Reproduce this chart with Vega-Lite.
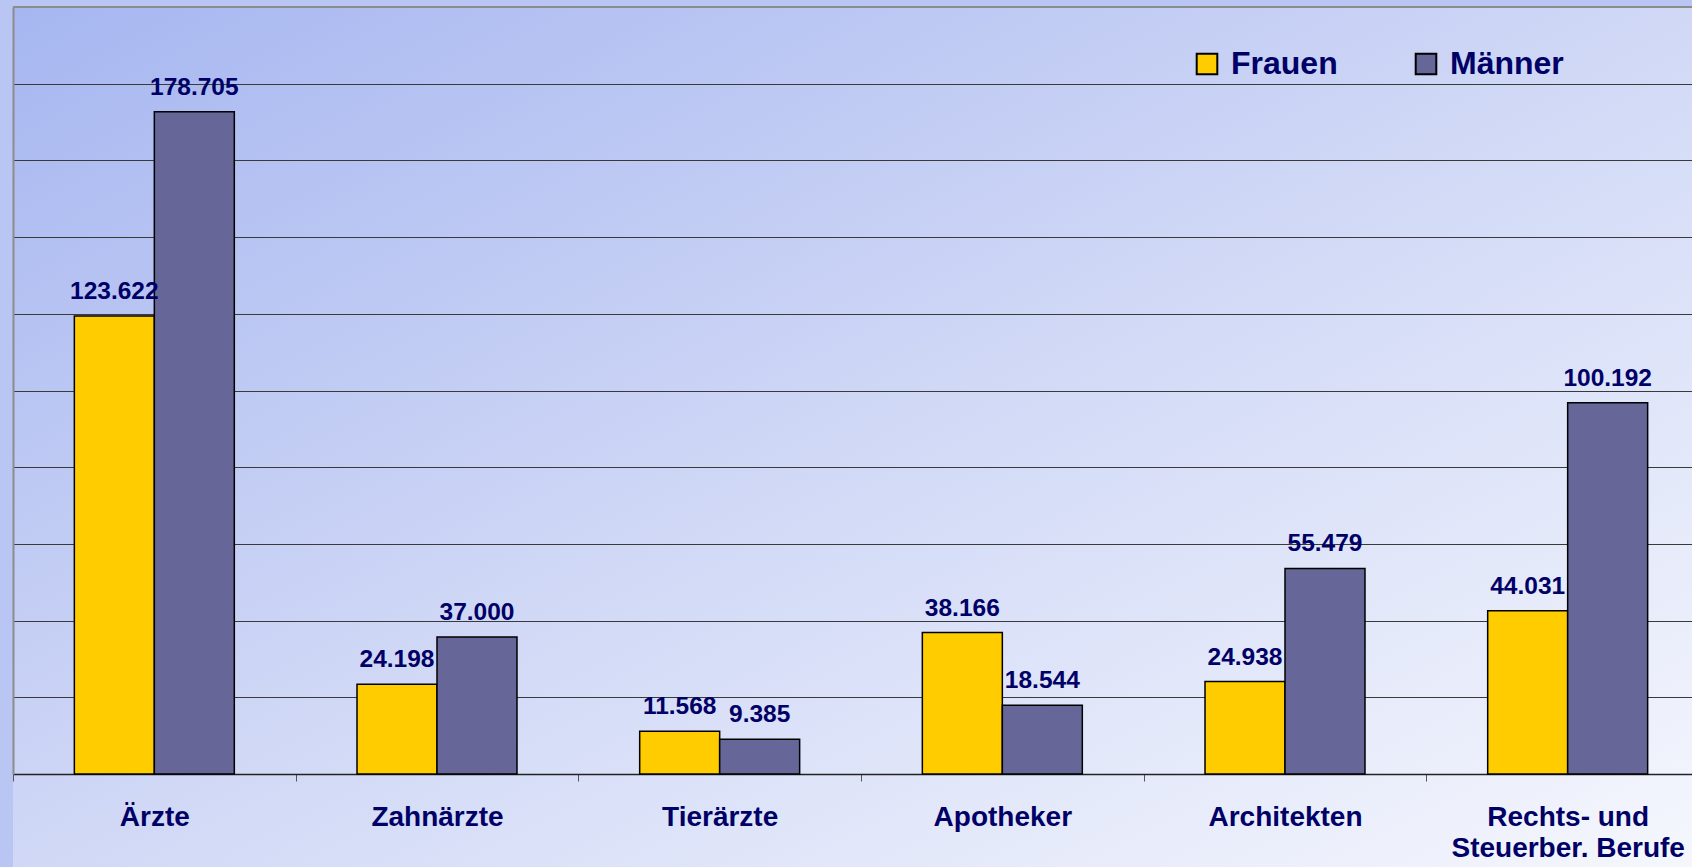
{
  "$schema": "https://vega.github.io/schema/vega-lite/v6.json",
  "width": 1679,
  "height": 860,
  "autosize": {"type": "none"},
  "padding": {"left": 13, "top": 7, "right": 0, "bottom": 0},
  "background": "#B9C6F3",
  "config": {
    "font": "Liberation Sans",
    "view": {
      "stroke": null,
      "fill": {
        "gradient": "linear", "x1": 0, "y1": 0, "x2": 1, "y2": 1,
        "stops": [
          {"offset": 0, "color": "#A6B6F0"},
          {"offset": 0.5, "color": "#D0D8F6"},
          {"offset": 1, "color": "#F5F7FD"}
        ]
      }
    }
  },
  "data": {
    "values": [
      {"Beruf": "Ärzte", "Geschlecht": "Frauen", "Anzahl": 123622},
      {"Beruf": "Ärzte", "Geschlecht": "Männer", "Anzahl": 178705},
      {"Beruf": "Zahnärzte", "Geschlecht": "Frauen", "Anzahl": 24198},
      {"Beruf": "Zahnärzte", "Geschlecht": "Männer", "Anzahl": 37000},
      {"Beruf": "Tierärzte", "Geschlecht": "Frauen", "Anzahl": 11568},
      {"Beruf": "Tierärzte", "Geschlecht": "Männer", "Anzahl": 9385},
      {"Beruf": "Apotheker", "Geschlecht": "Frauen", "Anzahl": 38166},
      {"Beruf": "Apotheker", "Geschlecht": "Männer", "Anzahl": 18544},
      {"Beruf": "Architekten", "Geschlecht": "Frauen", "Anzahl": 24938},
      {"Beruf": "Architekten", "Geschlecht": "Männer", "Anzahl": 55479},
      {"Beruf": "Rechts- und Steuerber. Berufe", "Geschlecht": "Frauen", "Anzahl": 44031},
      {"Beruf": "Rechts- und Steuerber. Berufe", "Geschlecht": "Männer", "Anzahl": 100192}
    ]
  },
  "layer": [
    {
      "mark": {"type": "rule", "color": "#8C8C8C", "strokeWidth": 2},
      "encoding": {"y": {"datum": 207000, "type": "quantitative"}}
    },
    {
      "encoding": {
        "x": {
          "field": "Beruf", "type": "nominal", "sort": null,
          "scale": {"range": [0, 1696], "paddingInner": 0, "paddingOuter": 0},
          "axis": {
            "title": null, "orient": "bottom", "offset": -93,
            "domainColor": "#222222", "domainWidth": 1.5,
            "tickBand": "extent", "tickColor": "#555555", "tickSize": 7, "tickWidth": 1,
            "labelFont": "Liberation Sans", "labelFontWeight": "bold", "labelFontSize": 28,
            "labelColor": "#000066", "labelPadding": 22, "labelAngle": 0, "labelLimit": 0,
            "labelOverlap": false, "labelBound": false, "labelFlush": false, "labelLineHeight": 31,
            "labelExpr": "datum.value == 'Rechts- und Steuerber. Berufe' ? ['Rechts- und', 'Steuerber. Berufe'] : datum.label",
            "grid": false
          }
        },
        "xOffset": {
          "field": "Geschlecht", "type": "nominal", "sort": ["Frauen", "Männer"],
          "scale": {"paddingInner": 0, "paddingOuter": 0.767}
        },
        "y": {
          "field": "Anzahl", "type": "quantitative",
          "scale": {"domain": [0, 207000], "range": [767, 0], "nice": false, "zero": true},
          "axis": {
            "title": null, "labels": false, "ticks": false,
            "domain": true, "domainColor": "#8C8C8C", "domainWidth": 2,
            "grid": true, "gridColor": "#3A3A3A", "gridWidth": 1,
            "values": [20700, 41400, 62100, 82800, 103500, 124200, 144900, 165600, 186300]
          }
        }
      },
      "layer": [
        {
          "mark": {"type": "bar", "stroke": "#000000", "strokeWidth": 1.5, "opacity": 1},
          "encoding": {
            "color": {
              "field": "Geschlecht", "type": "nominal",
              "scale": {"domain": ["Frauen", "Männer"], "range": ["#FFCC00", "#666699"]},
              "legend": {
                "orient": "none", "legendX": 1178, "legendY": 41, "direction": "horizontal",
                "title": null, "symbolType": "square", "symbolSize": 424,
                "symbolStrokeColor": "#000000", "symbolStrokeWidth": 2, "symbolOpacity": 1,
                "labelFont": "Liberation Sans", "labelFontWeight": "bold", "labelFontSize": 32,
                "labelColor": "#000066", "labelOffset": 8, "columnPadding": 72, "padding": 0,
                "labelLimit": 0
              }
            }
          }
        },
        {
          "mark": {
            "type": "text", "baseline": "alphabetic", "dy": -17,
            "font": "Liberation Sans", "fontWeight": "bold", "fontSize": 24.5, "color": "#000066",
            "text": {"expr": "replace(format(datum.Anzahl, ',d'), ',', '.')"}
          }
        }
      ]
    }
  ]
}
